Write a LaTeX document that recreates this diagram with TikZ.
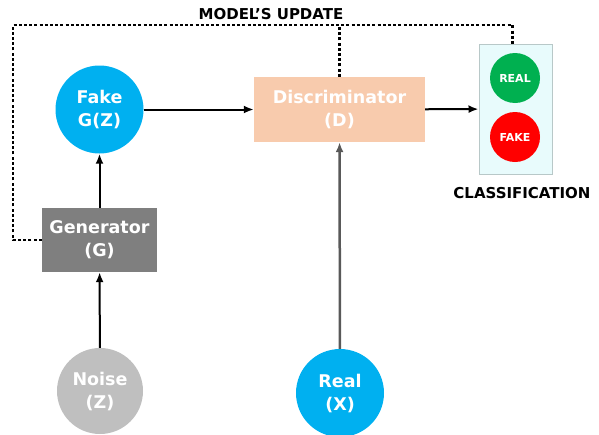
\documentclass[tikz,border=0pt]{standalone}
\usepackage{fontspec}
\setmainfont{DejaVu Sans}
\usetikzlibrary{arrows.meta}

\definecolor{ganblue}{HTML}{00B0F0}
\definecolor{ganpeach}{HTML}{F8CBAD}
\definecolor{gangrey}{HTML}{7F7F7F}
\definecolor{ganlight}{HTML}{BFBFBF}
\definecolor{gangreen}{HTML}{00B050}
\definecolor{ganred}{HTML}{FF0000}
\definecolor{ganpale}{HTML}{E8FBFC}
\definecolor{ganedge}{HTML}{B8C8C8}

\tikzset{
  bigtext/.style={text=white, font=\fontsize{17.5}{23}\selectfont\bfseries, align=center},
  blob/.style={circle, minimum size=88pt, inner sep=0pt, bigtext},
  block/.style={rectangle, inner sep=0pt, bigtext},
  lamp/.style={circle, minimum size=50pt, inner sep=0pt, text=white,
    font=\fontsize{11}{12}\selectfont\bfseries},
  flow/.style={-{Latex[length=10pt,width=8pt]}, line width=2pt},
  update/.style={line width=2.2pt, dash pattern=on 3pt off 2.2pt},
  caption/.style={font=\fontsize{15}{16}\selectfont\bfseries}
}

\begin{document}
\begin{tikzpicture}[x=1pt, y=-1pt]
  \useasboundingbox (0,0) rectangle (599,434);

  % nodes
  \node[blob, fill=ganblue] (fake) at (99.5,109.5) {Fake\\G(Z)};
  \node[block, fill=ganpeach, minimum width=171pt, minimum height=65pt] (disc) at (339.5,109.5) {Discriminator\\(D)};
  \node[block, fill=gangrey, minimum width=115pt, minimum height=64pt] (gen) at (99.5,240) {Generator\\(G)};
  \node[blob, fill=ganlight, minimum size=86pt] (noise) at (100,391) {Noise\\(Z)};
  \node[blob, fill=ganblue] (real) at (340,393) {Real\\(X)};

  \node[draw=ganedge, fill=ganpale, line width=1pt, minimum width=73pt, minimum height=130pt] (cls) at (515.5,109) {};
  \node[lamp, fill=gangreen] (yes) at (515,78) {REAL};
  \node[lamp, fill=ganred] (no) at (515,137) {FAKE};

  \node[caption] (clslabel) at (522,193) {CLASSIFICATION};
  \node[caption] (updlabel) at (271,14) {MODEL'S UPDATE};

  % arrows
  \draw[flow] (fake) -- (disc);
  \draw[flow] (disc) -- (cls);
  \draw[flow] (gen) -- (fake);
  \draw[flow] (noise) -- (gen);
  \draw[flow, draw=black!65, line width=2.5pt] (real) -- (disc);

  % feedback
  \coordinate (corner) at (13,25);
  \draw[update] (gen.west) -| (corner) -| ([xshift=-3pt]cls.north);
  \draw[update] (disc.north) -- (disc.north |- corner);
\end{tikzpicture}
\end{document}
